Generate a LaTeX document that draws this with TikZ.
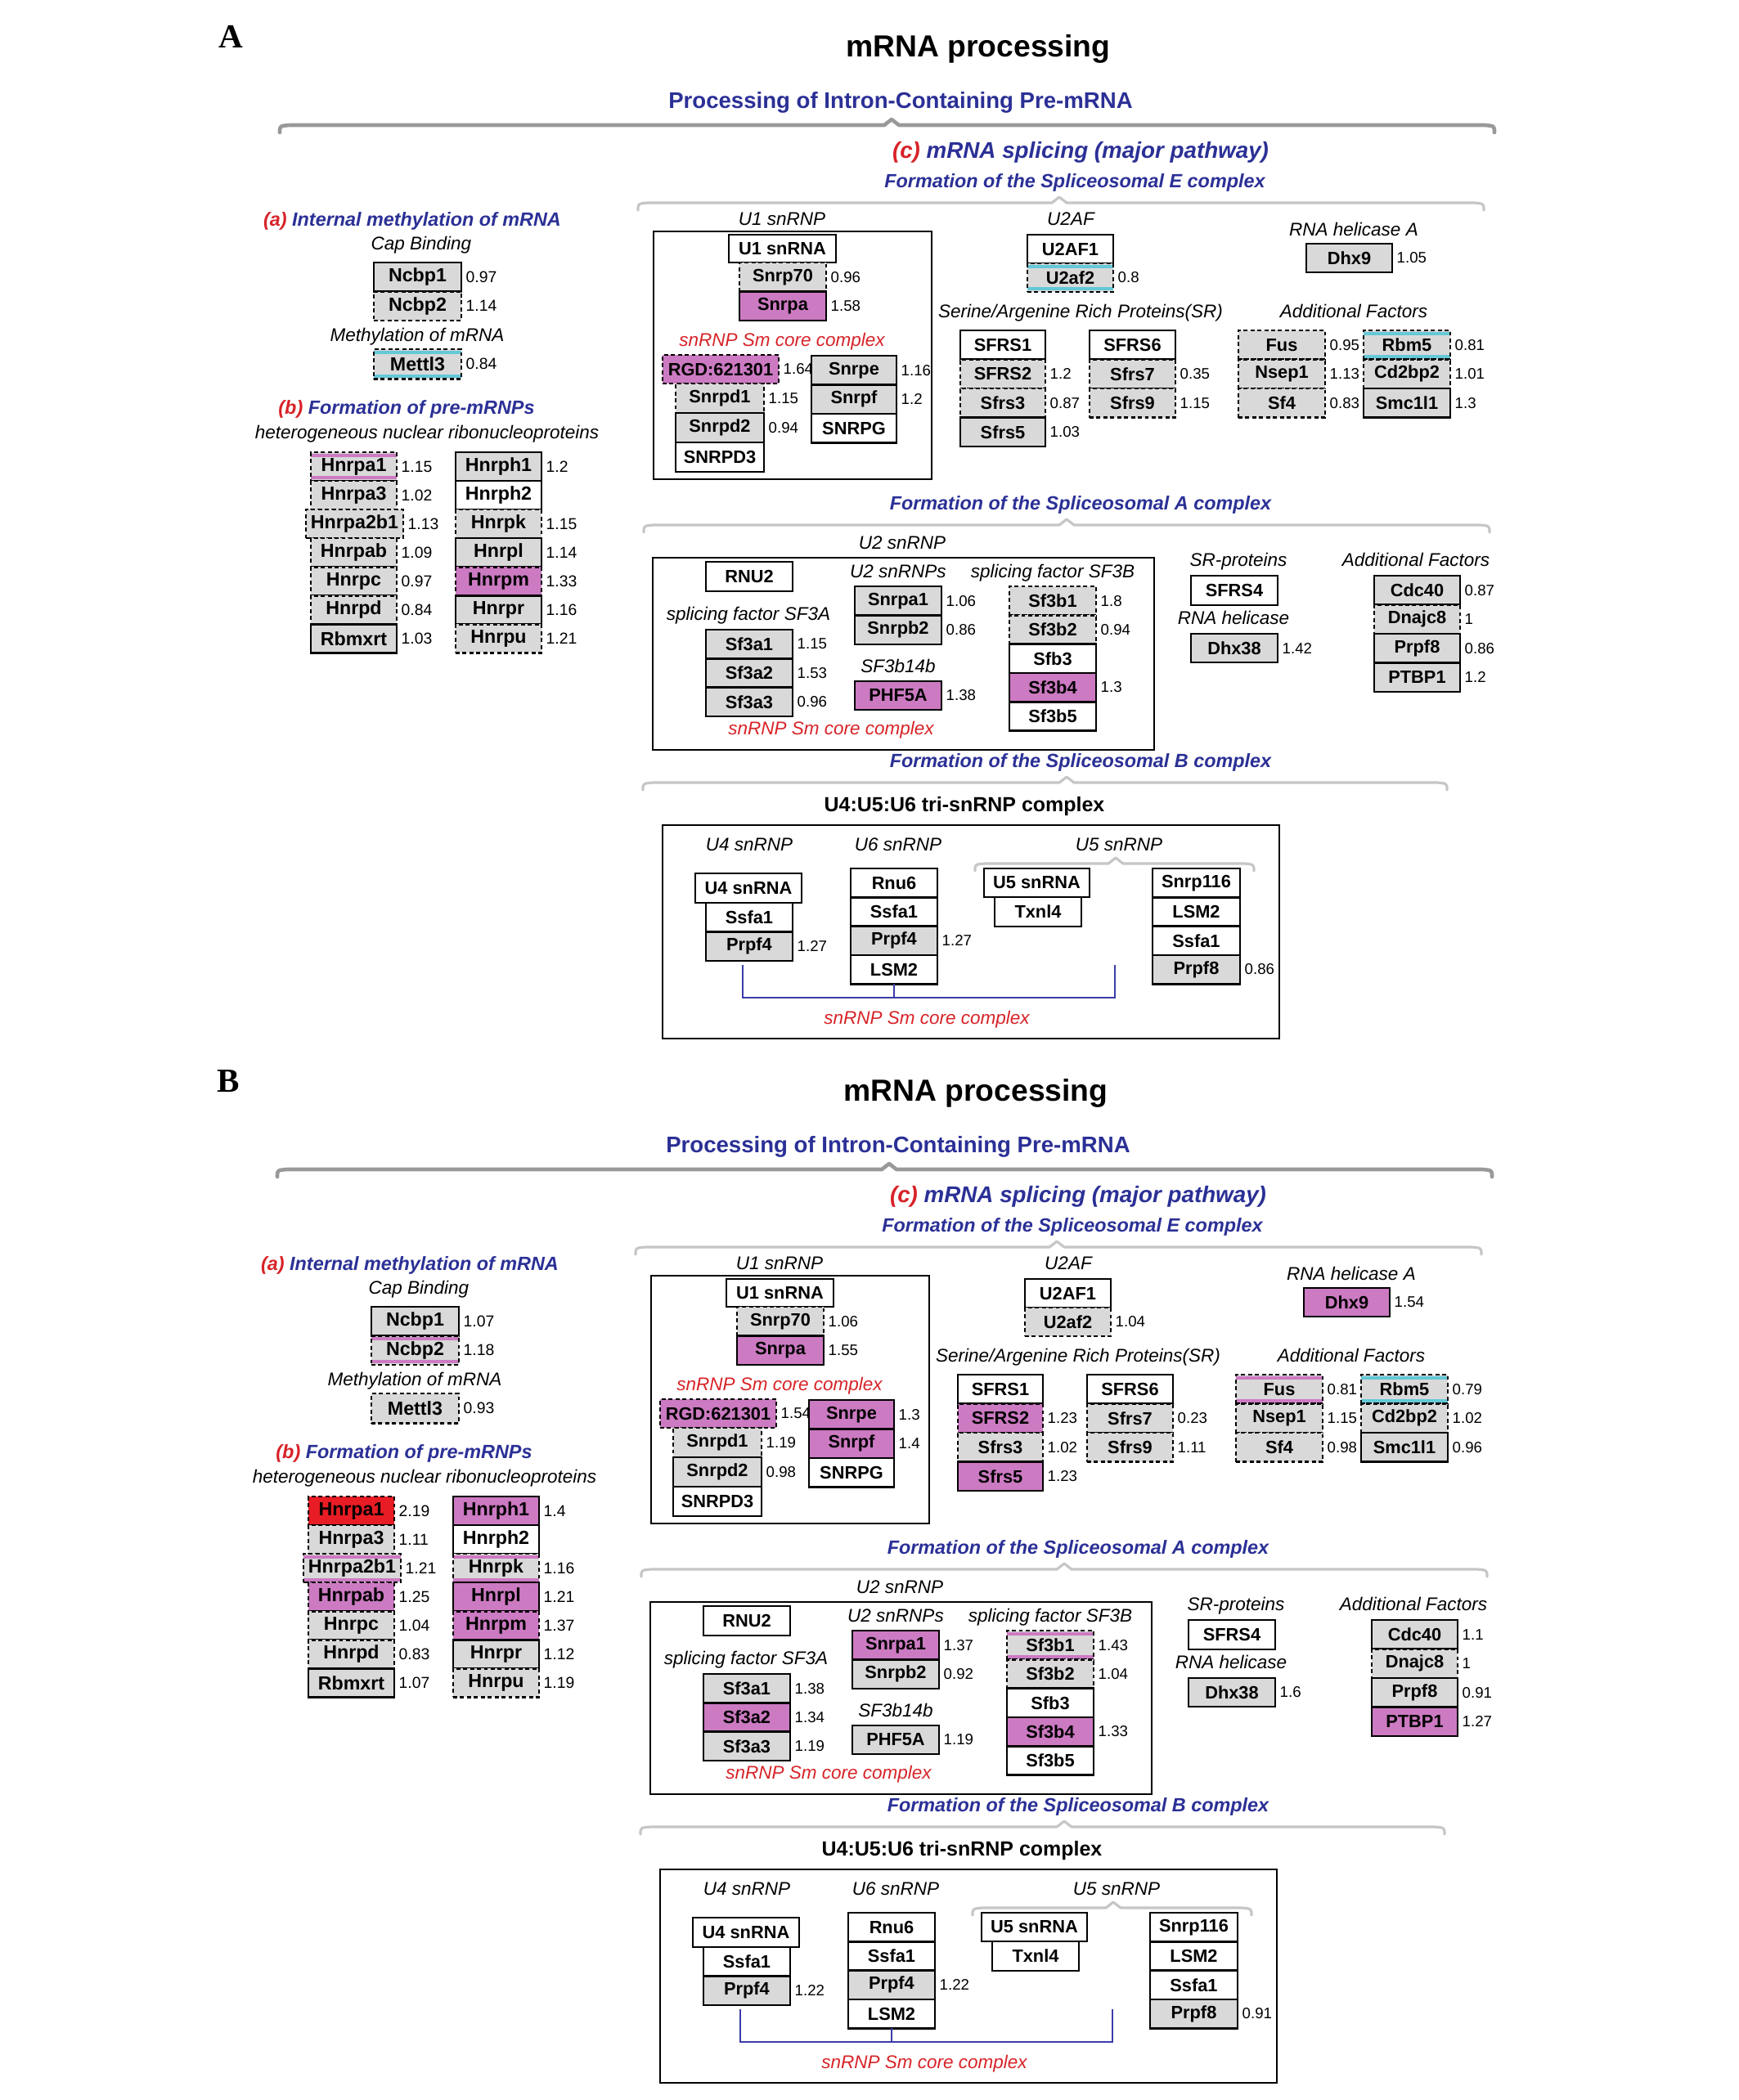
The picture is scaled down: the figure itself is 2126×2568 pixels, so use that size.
\documentclass[tikz,border=0pt]{standalone}
\usepackage{fontspec}
\setmainfont{Liberation Sans}
\newfontfamily\serifb{Liberation Serif}
\definecolor{boxgray}{RGB}{217,217,217}
\definecolor{pinkc}{RGB}{204,122,194}
\definecolor{redc}{RGB}{232,28,36}
\definecolor{cyanc}{RGB}{100,200,215}
\definecolor{bluet}{RGB}{43,48,150}
\definecolor{redt}{RGB}{215,35,40}
\definecolor{smblue}{RGB}{60,60,170}
\newif\ifpanelB
\def\pfx{a}
\newcommand\stripes[1]{%
  \fill[#1] ([yshift=-0.45pt]path picture bounding box.north west) rectangle ([yshift=-1.6pt]path picture bounding box.north east);
  \fill[#1] ([yshift=0.45pt]path picture bounding box.south west) rectangle ([yshift=1.6pt]path picture bounding box.south east);}
\tikzset{
  st/.style={#1},
  bx/.style={draw=black, line width=0.75pt, inner sep=0pt, outer sep=0pt, anchor=north west,
    font=\fontsize{6.2}{7}\selectfont\bfseries},
  dsh/.style={dash pattern=on 1.4pt off 1pt},
  sW/.style={fill=white},
  sG/.style={fill=boxgray},
  sGD/.style={fill=boxgray, dsh},
  sP/.style={fill=pinkc},
  sPD/.style={fill=pinkc, dsh},
  sRD/.style={fill=redc, dsh},
  sGDP/.style={sGD, path picture={\stripes{pinkc}}},
  sGDC/.style={sGD, path picture={\stripes{cyanc}}},
  val/.style={font=\fontsize{5.3}{6}\selectfont, inner sep=0pt, anchor=west},
  lab/.style={font=\fontsize{6.4}{7}\selectfont\itshape, inner sep=0pt, anchor=base},
  labr/.style={lab, text=redt},
  sec/.style={font=\fontsize{6.65}{7.5}\selectfont\bfseries\itshape, text=bluet, inner sep=0pt, anchor=base},
  cst/.style={font=\fontsize{7.9}{9}\selectfont\bfseries\itshape, text=bluet, inner sep=0pt, anchor=base},
  subt/.style={font=\fontsize{7.85}{9}\selectfont\bfseries, text=bluet, inner sep=0pt, anchor=base},
  ttl/.style={font=\fontsize{10.6}{12}\selectfont\bfseries, inner sep=0pt, anchor=base},
  trit/.style={font=\fontsize{7.1}{8}\selectfont\bfseries, inner sep=0pt, anchor=base},
  letter/.style={font=\fontsize{11.7}{13}\selectfont\serifb\bfseries, inner sep=0pt, anchor=base},
  cont/.style={draw=black, line width=0.65pt, inner sep=0pt, anchor=north west},
  smline/.style={draw=smblue, line width=0.6pt},
  leftcol/.style={bx/.append style={font=\fontsize{6.6}{7}\selectfont\bfseries},
    val/.append style={font=\fontsize{5.5}{6}\selectfont}},
}
\newcommand\col[6]{%
  \foreach \t/\sa/\va/\sb/\vb [count=\i from 0] in {#6}{%
    \ifpanelB\let\curS\sb\let\curV\vb\else\let\curS\sa\let\curV\va\fi
    \node[bx, st/.expand once=\curS, minimum width=#4*0.01cm, minimum height=#5*0.01cm]
      (\pfx-#1-\i) at (#2,{#3+\i*#5}) {\t};
    \node[val] (\pfx-#1-\i v) at ([xshift=0.05cm]\pfx-#1-\i.east) {\curV};
  }}
\newcommand\brk[6]{%
  \draw[line width=#5, color=#6, line cap=round, line join=round]
    (#1,{#4+9}) .. controls (#1,{#4+1}) .. ({#1+12},#4) -- ({#3-9},#4) -- (#3,{#4-7})
    -- ({#3+9},#4) -- ({#2-12},#4) .. controls (#2,{#4+1}) .. (#2,{#4+9});}
\newcommand\DrawPanel{%
  \node[letter] (\pfx-letter) at (282,58) {\ifpanelB B\else A\fi};
  \node[ttl] (\pfx-title) at (1196,69) {mRNA processing};
  \node[subt] (\pfx-sub) at (1101,132) {Processing of Intron-Containing Pre-mRNA};
  \brk{342}{1827}{1090}{153}{1.3pt}{gray!80}
  \node[cst] (\pfx-c) at (1321,193) {\textcolor{redt}{(c)} mRNA splicing (major pathway)};
  \node[sec] (\pfx-Ecx) at (1314,229) {Formation of the Spliceosomal E complex};
  \brk{780}{1814}{1295}{248}{0.9pt}{gray!45}
  % (a) and (b)
  \node[sec] (\pfx-a) at (504,276) {\textcolor{redt}{(a)} Internal methylation of mRNA};
  \node[lab] (\pfx-capb) at (515,305) {Cap Binding};
  \begin{scope}[leftcol]
  \col{cap}{457}{321}{107}{35.5}{Ncbp1/sG/0.97/sG/1.07, Ncbp2/sGD/1.14/sGDP/1.18}
  \col{met}{457}{427}{107}{36.5}{Mettl3/sGDC/0.84/sGD/0.93}
  \col{hA}{380}{553}{105}{35.05}{Hnrpa1/sGDP/1.15/sRD/2.19, Hnrpa3/sGD/1.02/sGD/1.11}
  \col{hB}{374}{623.1}{119}{35.05}{Hnrpa2b1/sGD/1.13/sGDP/1.21}
  \col{hC}{380}{658.15}{105}{35.05}{Hnrpab/sGD/1.09/sPD/1.25, Hnrpc/sGD/0.97/sGD/1.04, Hnrpd/sGD/0.84/sGD/0.83, Rbmxrt/sG/1.03/sG/1.07}
  \col{hD}{557}{553}{105}{35.05}{Hnrph1/sG/1.2/sP/1.4, Hnrph2/sW/{}/sW/{}, Hnrpk/sGD/1.15/sGDP/1.16, Hnrpl/sG/1.14/sP/1.21, Hnrpm/sPD/1.33/sPD/1.37, Hnrpr/sG/1.16/sG/1.12, Hnrpu/sGD/1.21/sGD/1.19}
  \end{scope}
  \node[lab] (\pfx-methl) at (510,417) {Methylation of mRNA};
  \node[sec] (\pfx-b) at (497,506) {\textcolor{redt}{(b)} Formation of pre-mRNPs};
  \node[lab] (\pfx-hnl) at (522,536) {heterogeneous nuclear ribonucleoproteins};
  % E complex
  \node[lab] (\pfx-u1l) at (956,275) {U1 snRNP};
  \node[cont, minimum width=340*0.01cm, minimum height=303*0.01cm] (\pfx-u1box) at (798,282) {};
  \col{u1a}{891}{287}{131}{34}{U1 snRNA/sW/{}/sW/{}}
  \col{u1}{904}{321}{106}{35.5}{Snrp70/sGD/0.96/sGD/1.06, Snrpa/sP/1.58/sP/1.55}
  \node[labr] (\pfx-sm1) at (956,423) {snRNP Sm core complex};
  \col{rgd}{810}{434}{142}{35}{RGD:621301/sPD/1.64/sPD/1.54}
  \col{smL}{826}{469}{108}{36}{Snrpd1/sGD/1.15/sGD/1.19, Snrpd2/sG/0.94/sG/0.98, SNRPD3/sW/{}/sW/{}}
  \col{smR}{992}{435}{104}{35.5}{Snrpe/sG/1.16/sP/1.3, Snrpf/sG/1.2/sP/1.4, SNRPG/sW/{}/sW/{}}
  \node[lab] (\pfx-u2afl) at (1309,275) {U2AF};
  \col{u2af}{1256}{287}{105}{35}{U2AF1/sW/{}/sW/{}, U2af2/sGDC/0.8/sGD/1.04}
  \node[lab] (\pfx-rhA) at (1655,288) {RNA helicase A};
  \col{dhx9}{1597}{298}{105}{35}{Dhx9/sG/1.05/sP/1.54}
  \node[lab] (\pfx-srl) at (1321,388) {Serine/Argenine Rich Proteins(SR)};
  \col{sr1}{1174}{404}{104}{35.5}{SFRS1/sW/{}/sW/{}, SFRS2/sGD/1.2/sPD/1.23, Sfrs3/sGD/0.87/sGD/1.02, Sfrs5/sG/1.03/sP/1.23}
  \col{sr2}{1332}{404}{105}{35.5}{SFRS6/sW/{}/sW/{}, Sfrs7/sGD/0.35/sGD/0.23, Sfrs9/sGD/1.15/sGD/1.11}
  \node[lab] (\pfx-afl) at (1655,388) {Additional Factors};
  \col{af1}{1514}{404}{106}{35.5}{Fus/sGD/0.95/sGDP/0.81, Nsep1/sGD/1.13/sGD/1.15, Sf4/sGD/0.83/sGD/0.98}
  \col{af2}{1667}{404}{106}{35.5}{Rbm5/sGDC/0.81/sGDC/0.79, Cd2bp2/sGD/1.01/sGD/1.02, Smc1l1/sG/1.3/sG/0.96}
  % A complex
  \node[sec] (\pfx-Acx) at (1321,623) {Formation of the Spliceosomal A complex};
  \brk{787}{1821}{1304}{642}{0.9pt}{gray!45}
  \node[lab] (\pfx-u2l) at (1103,671) {U2 snRNP};
  \node[cont, minimum width=613*0.01cm, minimum height=235*0.01cm] (\pfx-u2box) at (797,681) {};
  \col{rnu2}{863}{687}{106}{36}{RNU2/sW/{}/sW/{}}
  \node[lab] (\pfx-u2sl) at (1098,706) {U2 snRNPs};
  \node[lab] (\pfx-sf3bl) at (1287,706) {splicing factor SF3B};
  \node[lab] (\pfx-sf3al) at (915,758) {splicing factor SF3A};
  \col{sf3a}{863}{770}{106}{35.3}{Sf3a1/sG/1.15/sG/1.38, Sf3a2/sG/1.53/sP/1.34, Sf3a3/sG/0.96/sG/1.19}
  \col{u2s}{1045}{717}{106}{35.5}{Snrpa1/sG/1.06/sP/1.37, Snrpb2/sG/0.86/sG/0.92}
  \node[lab] (\pfx-sf14l) at (1098,822) {SF3b14b};
  \col{phf}{1045}{833}{106}{35}{PHF5A/sP/1.38/sG/1.19}
  \node[labr] (\pfx-sm2) at (1016,898) {snRNP Sm core complex};
  \col{sf3b}{1234}{717}{106}{35.3}{Sf3b1/sGD/1.8/sGDP/1.43, Sf3b2/sGD/0.94/sGD/1.04, Sfb3/sW/{}/sW/{}, Sf3b4/sP/1.3/sP/1.33, Sf3b5/sW/{}/sW/{}}
  \node[lab] (\pfx-srpl) at (1514,692) {SR-proteins};
  \col{sfrs4}{1456}{704}{106}{36}{SFRS4/sW/{}/sW/{}}
  \node[lab] (\pfx-rhl) at (1508,763) {RNA helicase};
  \col{dhx38}{1456}{775}{106}{35}{Dhx38/sG/1.42/sG/1.6}
  \node[lab] (\pfx-af2l) at (1731,692) {Additional Factors};
  \col{af3}{1680}{704}{105}{35.5}{Cdc40/sG/0.87/sG/1.1, Dnajc8/sGD/1/sGD/1, Prpf8/sG/0.86/sG/0.91, PTBP1/sG/1.2/sP/1.27}
  \node[sec] (\pfx-Bcx) at (1321,938) {Formation of the Spliceosomal B complex};
  \brk{786}{1769}{1304}{957}{0.9pt}{gray!45}
  % tri-snRNP
  \node[trit] (\pfx-tri) at (1179,992) {U4:U5:U6 tri-snRNP complex};
  \node[cont, minimum width=754*0.01cm, minimum height=261*0.01cm] (\pfx-tribox) at (809,1008) {};
  \node[lab] (\pfx-u4l) at (916,1040) {U4 snRNP};
  \node[lab] (\pfx-u6l) at (1098,1040) {U6 snRNP};
  \node[lab] (\pfx-u5l) at (1368,1040) {U5 snRNP};
  \brk{1192}{1533}{1364}{1056}{0.9pt}{gray!45}
  \col{u4a}{850}{1068}{130}{36}{U4 snRNA/sW/{}/sW/{}}
  \col{u4}{863}{1104}{106}{35.5}{Ssfa1/sW/{}/sW/{}, Prpf4/sG/1.27/sG/1.22}
  \col{u6}{1040}{1062}{106}{35.3}{Rnu6/sW/{}/sW/{}, Ssfa1/sW/{}/sW/{}, Prpf4/sG/1.27/sG/1.22, LSM2/sW/{}/sW/{}}
  \col{u5a}{1203}{1062}{129}{35}{U5 snRNA/sW/{}/sW/{}}
  \col{txn}{1216}{1097}{106}{36}{Txnl4/sW/{}/sW/{}}
  \col{u5}{1409}{1062}{107}{35.3}{Snrp116/sW/{}/sW/{}, LSM2/sW/{}/sW/{}, Ssfa1/sW/{}/sW/{}, Prpf8/sG/0.86/sG/0.91}
  \coordinate (\pfx-smc) at (1363,1220);
  \draw[smline] ([xshift=-0.08cm,yshift=-1.4pt]\pfx-u4-1.south) |- (\pfx-smc) -- ++(0,-40);
  \draw[smline] (\pfx-u6-3.south) -- (\pfx-u6-3.south |- \pfx-smc);
  \node[labr] (\pfx-sm3) at (1133,1252) {snRNP Sm core complex};
}
\begin{document}
\begin{tikzpicture}[x=0.01cm, y=-0.01cm]
  \fill[white] (0,0) rectangle (2126,2568);
  \useasboundingbox (0,0) rectangle (2126,2568);
  \begin{scope}
    \def\pfx{a}\panelBfalse
    \DrawPanel
  \end{scope}
  \begin{scope}[shift={(-3,1277)}]
    \def\pfx{b}\panelBtrue
    \DrawPanel
  \end{scope}
\end{tikzpicture}
\end{document}
